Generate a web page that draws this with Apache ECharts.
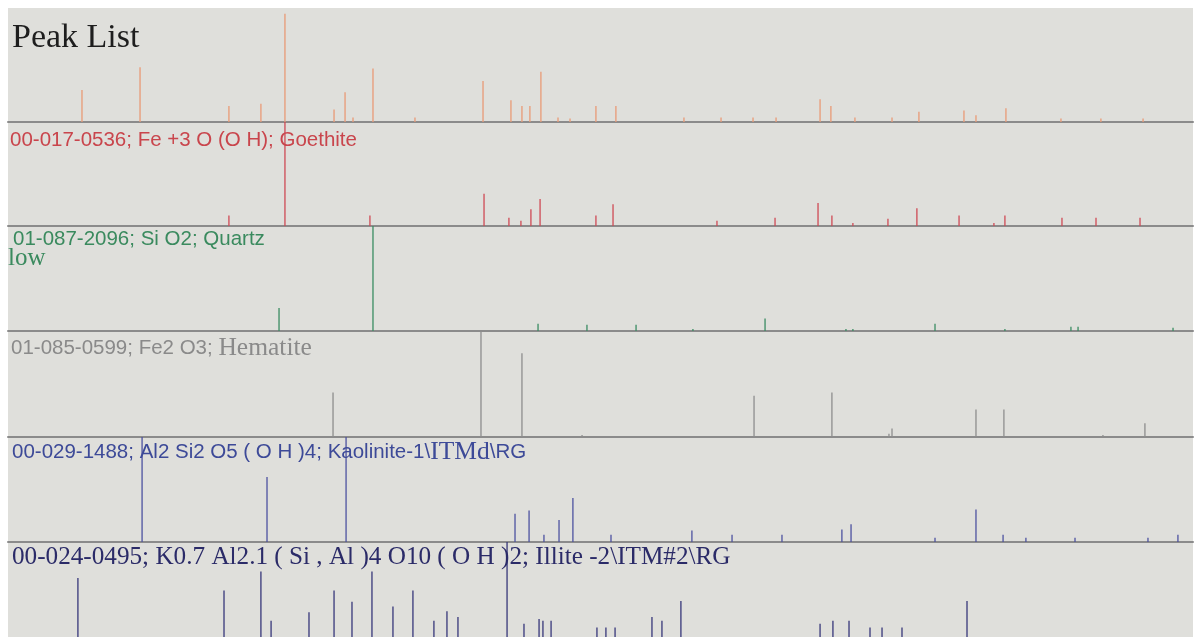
<!DOCTYPE html>
<html><head><meta charset="utf-8">
<script src="https://cdn.jsdelivr.net/npm/echarts@6/dist/echarts.min.js"></script>
<style>html,body{margin:0;padding:0;background:#fff}#c{width:1199px;height:637px}</style>
</head><body><div id="c"></div><script>
// 2-theta positions (deg) and relative intensities (%)
const peakListTheta = [9.37,12.80,18.05,19.94,21.36,24.26,24.91,25.38,26.56,29.04,33.06,34.71,35.36,35.83,36.48,37.49,38.20,39.73,40.91,44.93,47.12,49.01,50.37,52.97,53.61,55.03,57.22,58.81,61.47,62.18,63.95,67.20,69.56,72.05];
const peakListInt   = [28,48,14,16,95,11,26,4,47,4,36,19,14,14,44,4,3,14,14,4,4,4,4,20,14,4,4,9,10,6,12,3,3,3];

const goethiteTheta = [18.05,21.36,26.38,33.12,34.59,35.30,35.89,36.43,39.73,40.74,46.88,50.31,52.85,53.67,54.91,56.98,58.69,61.18,63.24,63.89,67.26,69.27,71.87];
const goethiteInt   = [10,100,10,31,8,5,16,26,10,21,5,8,22,10,3,7,17,10,3,10,8,8,8];

const quartzTheta = [21.01,26.56,36.31,39.20,42.10,45.46,49.72,54.50,54.91,59.76,63.89,67.79,68.21,73.82];
const quartzInt   = [22,100,7,6,6,2,12,2,2,7,2,4,4,3];

const hematiteTheta = [24.20,32.94,35.36,38.91,49.07,53.67,57.04,57.22,62.18,63.83,69.68,72.16];
const hematiteInt   = [42,100,79,2,39,42,3,8,26,26,2,13];

const kaoliniteTheta = [12.92,20.30,24.97,34.95,35.78,36.66,37.55,38.37,40.62,45.40,47.77,50.72,54.26,54.80,59.76,62.18,63.78,65.13,68.03,72.34,74.11];
const kaoliniteInt   = [100,62,100,27,30,7,21,42,7,11,7,7,12,17,4,31,7,4,4,4,7];

const illiteTheta = [9.13,17.76,19.94,20.54,22.78,24.26,25.32,26.50,27.74,28.92,30.16,30.93,31.58,34.48,35.48,36.37,36.60,37.08,39.79,40.32,40.86,43.04,43.63,44.75,52.97,53.73,54.68,55.92,56.63,57.81,61.65];
const illiteInt   = [62,49,69,17,26,49,37,69,32,49,17,27,21,100,14,19,17,17,10,10,10,21,17,38,14,17,17,10,10,10,38];

const thetaMin = 5, thetaMax = 75;

const panels = [
  {theta: peakListTheta,  inten: peakListInt,  color: '#e99a76'},
  {theta: goethiteTheta,  inten: goethiteInt,  color: '#cf4a55'},
  {theta: quartzTheta,    inten: quartzInt,    color: '#3a8c62'},
  {theta: hematiteTheta,  inten: hematiteInt,  color: '#8e8e8e'},
  {theta: kaoliniteTheta, inten: kaoliniteInt, color: '#4d52a0'},
  {theta: illiteTheta,    inten: illiteInt,    color: '#37377a'}
];
const tops = [8,122,226,331,437,542];
const heights = [114,104,105,106,105,105];

const grids = [], xAxes = [], yAxes = [], series = [];
panels.forEach((p, i) => {
  grids.push({left: 8, right: 6, top: tops[i], height: heights[i], show: true,
    backgroundColor: '#dfdfdb', borderWidth: 0, containLabel: false});
  xAxes.push({type: 'value', gridIndex: i, min: thetaMin, max: thetaMax,
    axisLine: {show: i < 5, onZero: false, lineStyle: {color: '#8b8b8b', width: 2}},
    axisTick: {show: false}, axisLabel: {show: false}, splitLine: {show: false}});
  yAxes.push({type: 'value', gridIndex: i, min: 0, max: 100, show: false,
    splitLine: {show: false}});
  series.push({
    type: 'custom', xAxisIndex: i, yAxisIndex: i, clip: false, z: 3,
    itemStyle: {color: p.color},
    data: p.theta.map((t, k) => [t, p.inten[k]]),
    renderItem: function (params, api) {
      const a = api.coord([api.value(0), 0]);
      const b = api.coord([api.value(0), api.value(1)]);
      return {type: 'line', shape: {x1: a[0], y1: a[1], x2: b[0], y2: b[1]},
        style: {stroke: api.visual('color'), lineWidth: 1.3}};
    }
  });
});

const SANS = 'Liberation Sans, Arial, sans-serif';
const SERIF = 'Liberation Serif, Times New Roman, serif';
const N = 'normal';

const titles = [
  {left: 12, top: 21, padding: 0, text: 'Peak List',
   textStyle: {fontFamily: SERIF, fontSize: 34, fontWeight: N, color: '#1e1e1e'}},
  {left: 10, top: 130, padding: 0, text: '00-017-0536; Fe +3 O (O H); Goethite',
   textStyle: {fontFamily: SANS, fontSize: 20.5, fontWeight: N, color: '#c9454c'}},
  {left: 13, top: 229, padding: 0, text: '01-087-2096; Si O2; Quartz',
   textStyle: {fontFamily: SANS, fontSize: 20.5, fontWeight: N, color: '#3a8a5e'}},
  {left: 8, top: 246, padding: 0, text: 'low',
   textStyle: {fontFamily: SERIF, fontSize: 25, fontWeight: N, color: '#3a8a5e'}},
  {left: 11, top: 336, padding: 0, text: '{a|01-085-0599; Fe2 O3; }{b|Hematite}',
   textStyle: {fontWeight: N, rich: {
     a: {fontFamily: SANS, fontSize: 20.5, fontWeight: N, lineHeight: 25, color: '#8a8a8a'},
     b: {fontFamily: SERIF, fontSize: 25.5, fontWeight: N, lineHeight: 25, color: '#8a8a8a'}}}},
  {left: 12, top: 440, padding: 0, text: '{a|00-029-1488; Al2 Si2 O5 ( O H )4; Kaolinite-1\\}{b|ITMd}{a|\\RG}',
   textStyle: {fontWeight: N, rich: {
     a: {fontFamily: SANS, fontSize: 20.5, fontWeight: N, lineHeight: 25, color: '#3d4a98'},
     b: {fontFamily: SERIF, fontSize: 25.5, fontWeight: N, lineHeight: 25, color: '#3d4a98'}}}},
  {left: 12, top: 545, padding: 0, text: '00-024-0495; K0.7 Al2.1 ( Si , Al )4 O10 ( O H )2; Illite -2\\ITM#2\\RG',
   textStyle: {fontFamily: SERIF, fontSize: 25.2, fontWeight: N, color: '#2b2b68'}}
];

const chart = echarts.init(document.getElementById('c'), null, {renderer: 'canvas'});
chart.setOption({
  backgroundColor: '#ffffff',
  animation: false,
  title: titles,
  grid: grids, xAxis: xAxes, yAxis: yAxes, series: series
});
</script></body></html>
